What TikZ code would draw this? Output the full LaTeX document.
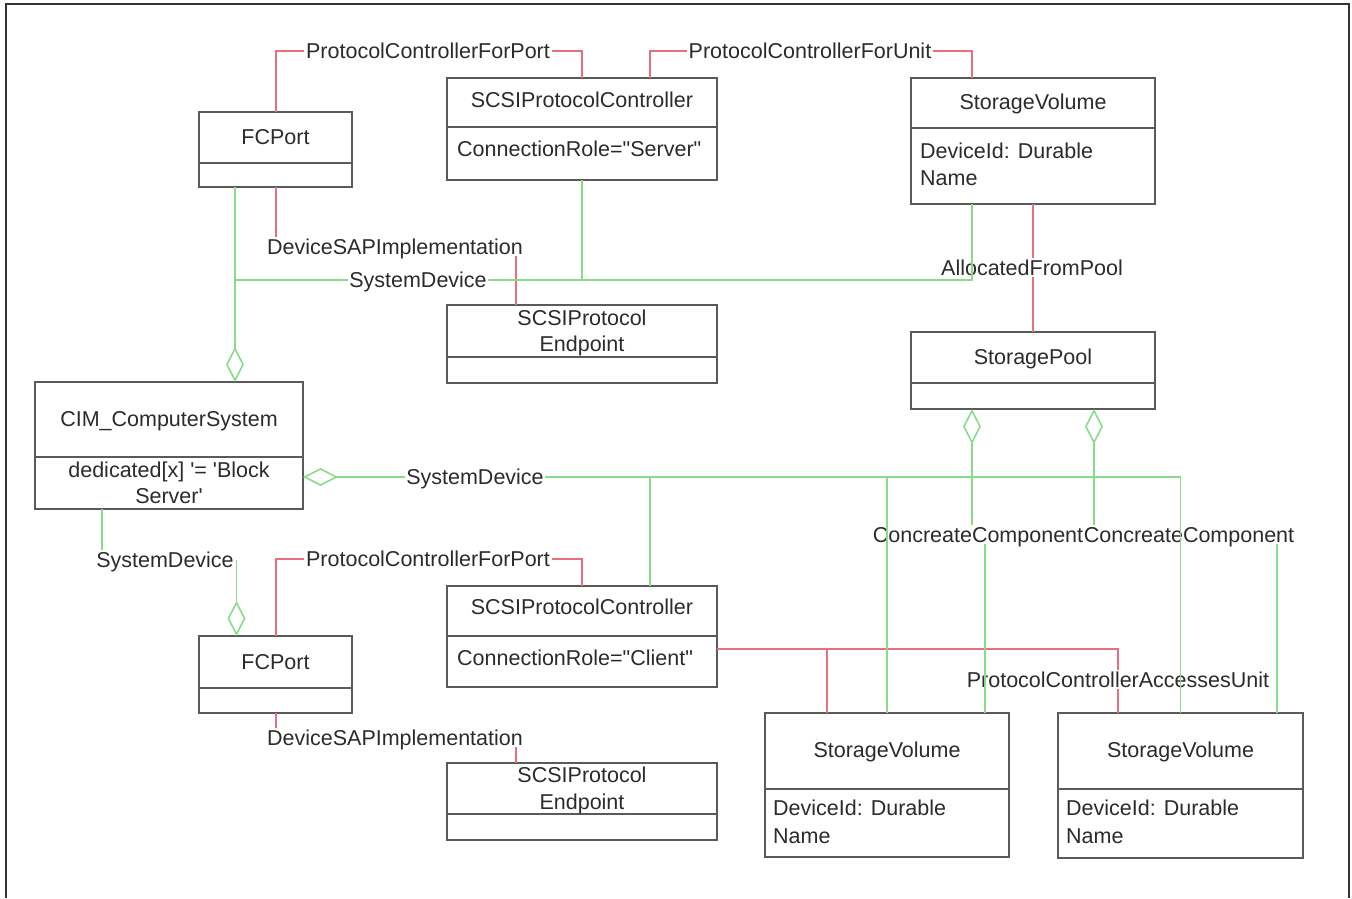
\documentclass[tikz,border=0pt]{standalone}
\usepackage{fontspec}
\setmainfont{Liberation Sans}
\usetikzlibrary{arrows.meta}
\definecolor{redc}{HTML}{E8707C}
\definecolor{grnc}{HTML}{8ADB8A}
\definecolor{boxc}{HTML}{5A5A5A}
\definecolor{txtc}{HTML}{2B2B2B}
\begin{document}
\begin{tikzpicture}[x=1pt,y=-1pt,
  box/.style={draw=boxc, line width=1.5pt, anchor=north west, inner sep=0pt, outer sep=0pt},
  txt/.style={anchor=base, inner sep=0pt, text=txtc, font=\fontsize{21.5}{26}\selectfont},
  ltxt/.style={txt, anchor=base west},
  lbl/.style={text=txtc, font=\fontsize{21.5}{26}\selectfont, text height=15.4pt, text depth=0pt, inner sep=1.5pt},
  rl/.style={draw=redc, line width=1.6pt},
  gl/.style={draw=grnc, line width=1.6pt},
  agg/.style={gl, -{Diamond[open, length=35pt, width=18pt]}}]
\useasboundingbox (0,0) rectangle (1352,898);
\draw[line width=2.5pt, draw=black!80] (6,898) -- (6,4) -- (1349,4) -- (1349,898);

% ---- boxes ----
\node[box, minimum width=153pt, minimum height=51pt] (fc1h) at (199,112) {};
\node[box, minimum width=153pt, minimum height=24pt] (fc1b) at (199,163) {};
\node[box, minimum width=270pt, minimum height=49pt] (sc1h) at (447,78) {};
\node[box, minimum width=270pt, minimum height=53pt] (sc1b) at (447,127) {};
\node[box, minimum width=244pt, minimum height=50pt] (sv1h) at (911,78) {};
\node[box, minimum width=244pt, minimum height=76pt] (sv1b) at (911,128) {};
\node[box, minimum width=270pt, minimum height=52pt] (ep1h) at (447,305) {};
\node[box, minimum width=270pt, minimum height=26pt] (ep1b) at (447,357) {};
\node[box, minimum width=244pt, minimum height=51pt] (sph) at (911,332) {};
\node[box, minimum width=244pt, minimum height=26pt] (spb) at (911,383) {};
\node[box, minimum width=268pt, minimum height=75pt] (cimh) at (35,382) {};
\node[box, minimum width=268pt, minimum height=52pt] (cimb) at (35,457) {};
\node[box, minimum width=153pt, minimum height=52pt] (fc2h) at (199,636) {};
\node[box, minimum width=153pt, minimum height=25pt] (fc2b) at (199,688) {};
\node[box, minimum width=270pt, minimum height=50pt] (sc2h) at (447,586) {};
\node[box, minimum width=270pt, minimum height=51pt] (sc2b) at (447,636) {};
\node[box, minimum width=270pt, minimum height=51pt] (ep2h) at (447,763) {};
\node[box, minimum width=270pt, minimum height=26pt] (ep2b) at (447,814) {};
\node[box, minimum width=244pt, minimum height=76pt] (sv2h) at (765,713) {};
\node[box, minimum width=244pt, minimum height=68pt] (sv2b) at (765,789) {};
\node[box, minimum width=245pt, minimum height=76pt] (sv3h) at (1058,713) {};
\node[box, minimum width=245pt, minimum height=69pt] (sv3b) at (1058,789) {};

% ---- box texts ----
\node[txt] (t1) at (275.5,144) {FCPort};
\node[txt] (t2) at (582,107) {SCSIProtocolController};
\node[ltxt] (t3) at (457,156) {ConnectionRole=\textquotedbl Server\textquotedbl};
\node[txt] (t4) at (1033,109) {StorageVolume};
\node[ltxt] (t5) at (920,158) {DeviceId: Durable};
\node[ltxt] (t6) at (920,185) {Name};
\node[txt] (t7) at (582,325) {SCSIProtocol};
\node[txt] (t8) at (582,351) {Endpoint};
\node[txt] (t9) at (1033,364) {StoragePool};
\node[txt] (t10) at (169,426) {CIM\_ComputerSystem};
\node[txt] (t11) at (169,477) {dedicated[x] \textquotesingle= \textquotesingle Block};
\node[txt] (t12) at (169,503) {Server\textquotesingle};
\node[txt] (t13) at (275.5,669) {FCPort};
\node[txt] (t14) at (582,614) {SCSIProtocolController};
\node[ltxt] (t15) at (457,665) {ConnectionRole=\textquotedbl Client\textquotedbl};
\node[txt] (t16) at (582,782) {SCSIProtocol};
\node[txt] (t17) at (582,809) {Endpoint};
\node[txt] (t18) at (887,757) {StorageVolume};
\node[ltxt] (t19) at (773,815) {DeviceId: Durable};
\node[ltxt] (t20) at (773,843) {Name};
\node[txt] (t21) at (1180.5,757) {StorageVolume};
\node[ltxt] (t22) at (1066,815) {DeviceId: Durable};
\node[ltxt] (t23) at (1066,843) {Name};

% ---- connector labels ----
\node[lbl] (lPCFP1) at (428,51) {ProtocolControllerForPort};
\node[lbl] (lPCFU) at (810,51) {ProtocolControllerForUnit};
\node[lbl] (lDSAP1) at (395,246.5) {DeviceSAPImplementation};
\node[lbl] (lSD1) at (418,280) {SystemDevice};
\node[lbl] (lAFP) at (1032,267.5) {AllocatedFromPool};
\node[lbl] (lSD2) at (475,477) {SystemDevice};
\node[lbl] (lCC1) at (978,534.5) {ConcreateComponent};
\node[lbl] (lCC2) at (1189,534.5) {ConcreateComponent};
\node[lbl] (lSD3) at (165,559.5) {SystemDevice};
\node[lbl] (lPCFP2) at (428,559) {ProtocolControllerForPort};
\node[lbl] (lPCAU) at (1118,679.5) {ProtocolControllerAccessesUnit};
\node[lbl] (lDSAP2) at (395,737.5) {DeviceSAPImplementation};

% ---- red connectors ----
\draw[rl] ([xshift=0.5pt]fc1h.north) |- (lPCFP1.west);
\draw[rl] (lPCFP1.east) -| (sc1h.north);
\draw[rl] ([xshift=68pt]sc1h.north) |- (lPCFU.west);
\draw[rl] (lPCFU.east) -| ([xshift=-61pt]sv1h.north);
\draw[rl] ([xshift=0.5pt]fc1b.south) -- ([xshift=0.5pt]fc1b.south |- lDSAP1.north);
\draw[rl] ([xshift=-66pt]ep1h.north |- lDSAP1.south) -- ([xshift=-66pt]ep1h.north);
\draw[rl] (sv1b.south) -- (sv1b.south |- lAFP.north);
\draw[rl] (sph.north |- lAFP.south) -- (sph.north);
\draw[rl] ([xshift=0.5pt]fc2h.north) |- (lPCFP2.west);
\draw[rl] (lPCFP2.east) -| (sc2h.north);
\draw[rl] ([xshift=0.5pt]fc2b.south) -- ([xshift=0.5pt]fc2b.south |- lDSAP2.north);
\draw[rl] ([xshift=-66pt]ep2h.north |- lDSAP2.south) -- ([xshift=-66pt]ep2h.north);
\coordinate (pa) at ([yshift=12.5pt]sc2b.east);
\draw[rl] (pa) -| (lPCAU.north);
\draw[rl] (lPCAU.south) -- (lPCAU.south |- sv3h.north);
\draw[rl] ([xshift=-60pt]sv2h.north |- pa) -- ([xshift=-60pt]sv2h.north);

% ---- green connectors ----
\coordinate (j1) at ([xshift=66pt]cimh.north |- lSD1.west);
\draw[agg] (j1) -- ([xshift=66pt]cimh.north);
\draw[gl] (j1 |- fc1b.south) -- (j1);
\draw[gl] (j1) -- (lSD1.west);
\draw[gl] (lSD1.east) -| ([xshift=-61pt]sv1b.south);
\draw[gl] (sc1b.south) -- (sc1b.south |- j1);

\coordinate (j2) at ([yshift=6pt]cimb.east);
\draw[agg] (lSD2.west) -- (j2);
\draw[gl] (lSD2.east) -| (sv3h.north);
\draw[gl] ([xshift=68pt]sc2h.north |- j2) -- ([xshift=68pt]sc2h.north);
\draw[gl] (sv2h.north |- j2) -- (sv2h.north);

\draw[agg] ([xshift=-61pt]spb.south |- lCC1.north) -- ([xshift=-61pt]spb.south);
\draw[gl] ([xshift=98pt]sv2h.north |- lCC1.south) -- ([xshift=98pt]sv2h.north);
\draw[agg] ([xshift=61pt]spb.south |- lCC2.north) -- ([xshift=61pt]spb.south);
\draw[gl] ([xshift=96.5pt]sv3h.north |- lCC2.south) -- ([xshift=96.5pt]sv3h.north);

\draw[gl] ([xshift=-67pt]cimb.south) -- ([xshift=-67pt]cimb.south |- lSD3.north);
\draw[agg] ([xshift=-39pt]fc2h.north |- lSD3.east) -- ([xshift=-39pt]fc2h.north);
\end{tikzpicture}
\end{document}
